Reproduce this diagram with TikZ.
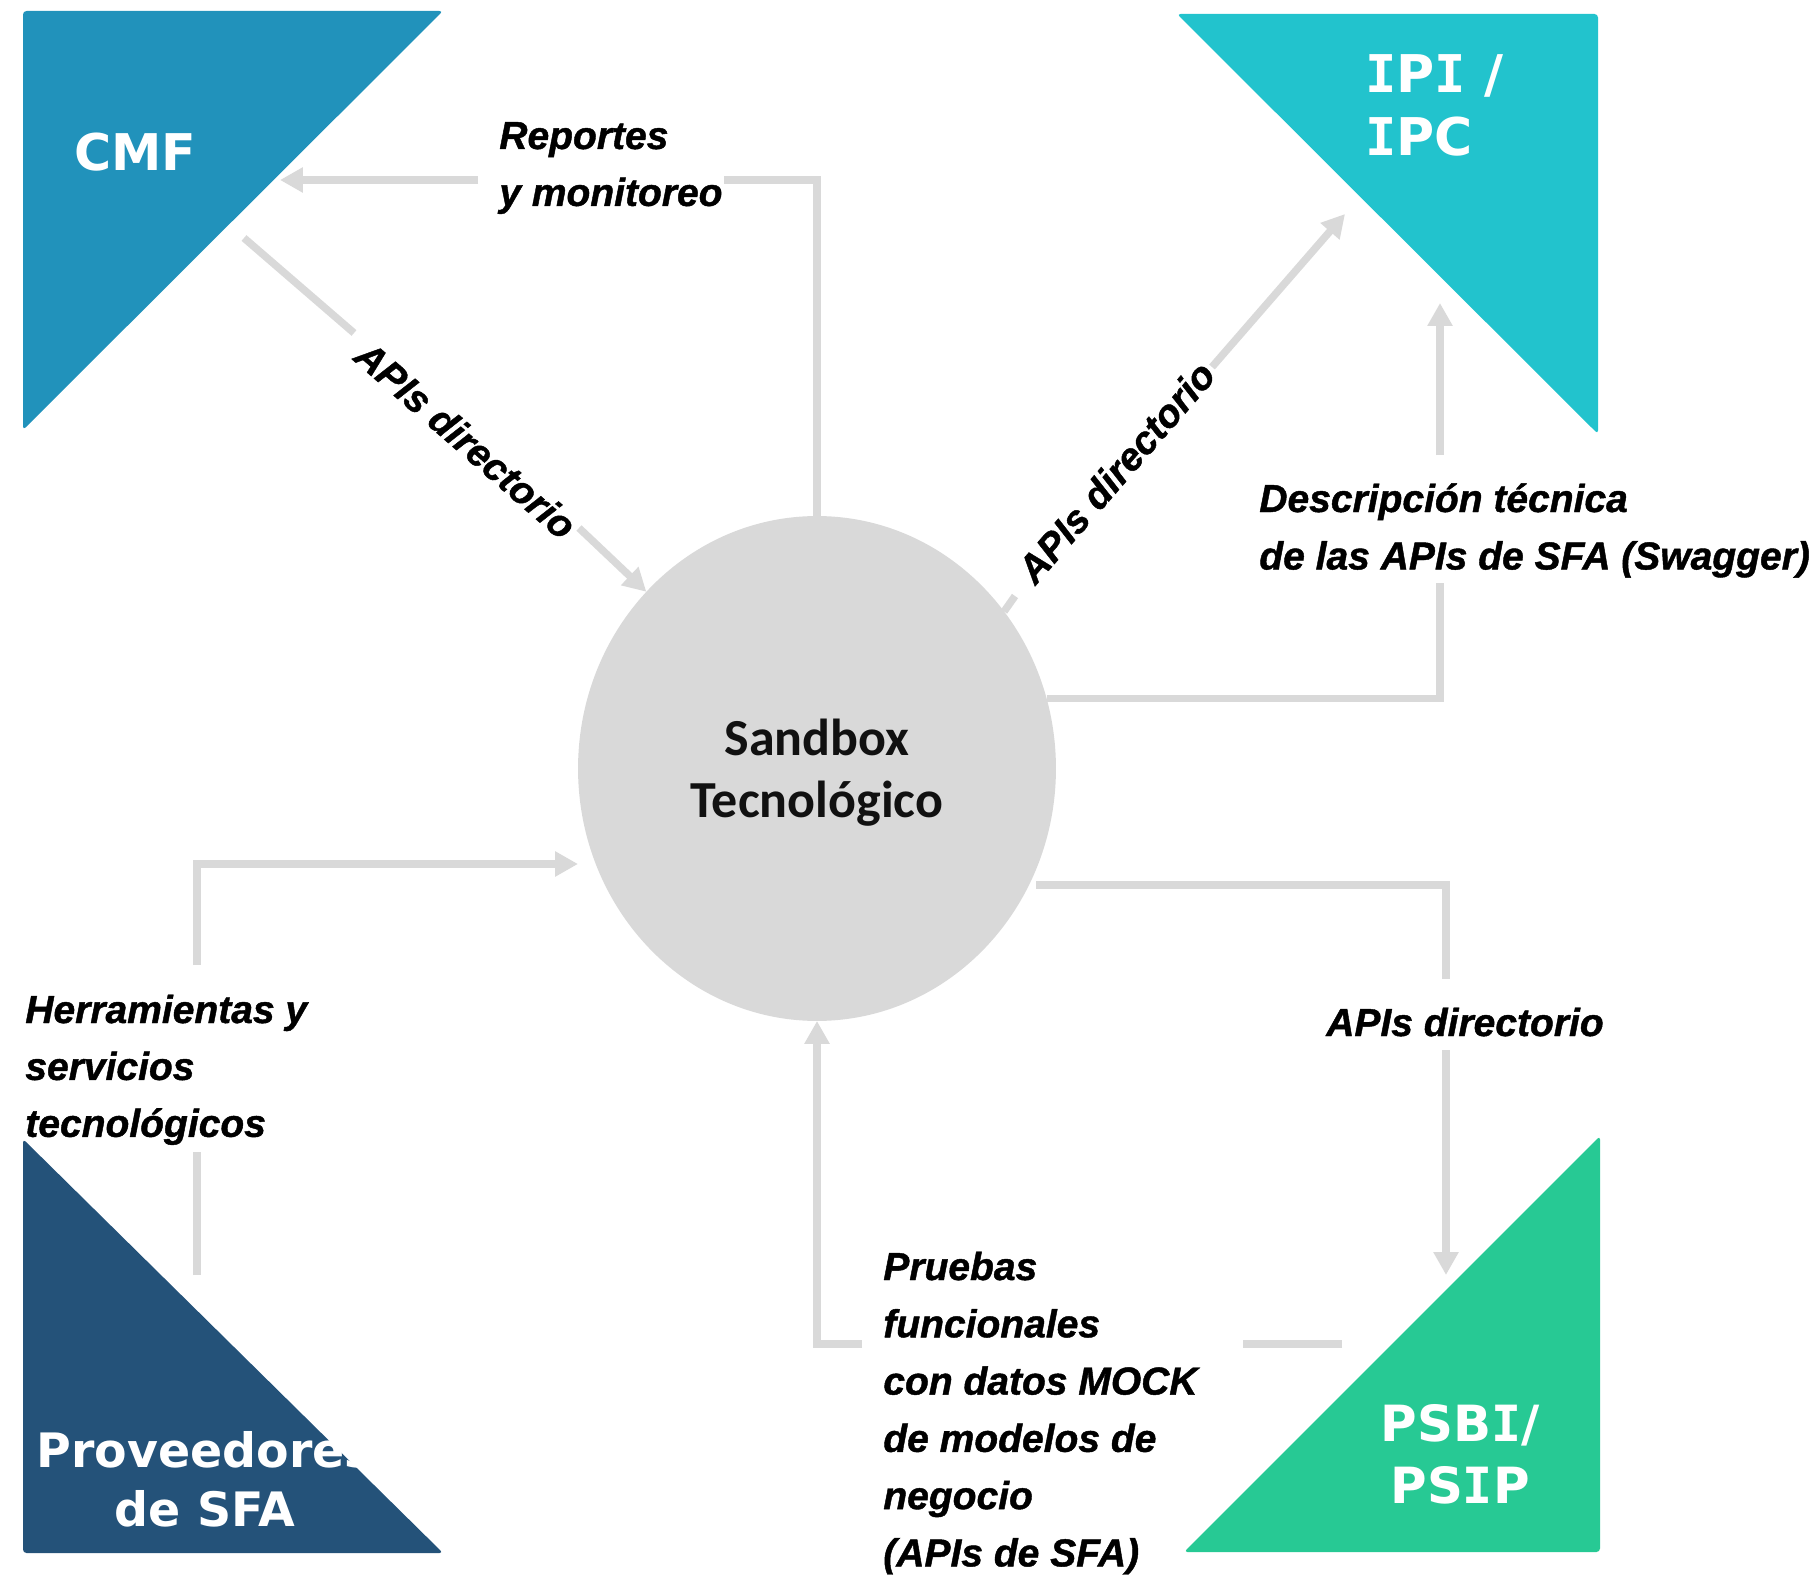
\documentclass[tikz,border=0pt]{standalone}
\usepackage{fontspec}
\setmainfont{Liberation Sans}
\newfontfamily\labfont[FakeBold=1.1]{Liberation Sans Bold Italic}
\newfontfamily\boxfont{DejaVu Sans}
\newfontfamily\boxmono{DejaVu Sans Mono}
\newfontfamily\sbfont{Carlito}
\newcommand\serifI{{\boxmono\bfseries I}}
\usetikzlibrary{arrows.meta,shapes.geometric}
\definecolor{cmfc}{HTML}{2192BB}
\definecolor{ipic}{HTML}{22C3CD}
\definecolor{provc}{HTML}{245279}
\definecolor{psbic}{HTML}{27C994}
\definecolor{lgrey}{HTML}{D9D9D9}
\definecolor{sbtext}{HTML}{111111}
\begin{document}
\begin{tikzpicture}[x=0.02cm,y=-0.02cm,
  conn/.style={draw=lgrey, line width=0.15cm},
  arr/.style={conn, -{Triangle[length=0.46cm,width=0.48cm]}},
  labtxt/.style={inner sep=0, text=black, font=\labfont\fontsize{22.2pt}{#1}\selectfont},
  lab/.style={labtxt=#1, anchor=base west},
  boxtxt/.style={inner sep=0, text=white, font=\boxfont\bfseries\fontsize{#1}{35.8pt}\selectfont},
  tri/.style={rounded corners=2pt}]
\useasboundingbox (0,0) rectangle (1816,1578);

% corner shapes
\fill[cmfc, tri] (23,11) -- (443,11) -- (23,430) -- cycle;
\fill[ipic, tri] (1177,14) -- (1598,14) -- (1598,434) -- cycle;
\fill[psbic, tri] (1600,1136) -- (1600,1552) -- (1184,1552) -- cycle;
\fill[provc, tri] (23,1139) -- (23,1553) -- (443,1553) -- cycle;

% central node
\node[ellipse, fill=lgrey, inner sep=0, outer sep=0,
      minimum width=9.56cm, minimum height=10.1cm] (sb) at (817,768.5) {};
\node[inner sep=0, anchor=base, text=sbtext,
      font=\sbfont\bfseries\fontsize{29.6pt}{35.85pt}\selectfont] (sbt) at (817,755)
  {\begin{tabular}[t]{@{}c@{}}Sandbox\\Tecnológico\end{tabular}};

% box labels
\node[boxtxt=28.8pt, anchor=base west] (cmf) at (74,171) {CMF};
\node[boxtxt=29.6pt, anchor=base west] (ipi) at (1365,93)
  {\begin{tabular}[t]{@{}l@{}}\serifI P\serifI\ /\\\serifI PC\end{tabular}};
\node[boxtxt=28.4pt, anchor=base] (psbi) at (1460,1441)
  {\begin{tabular}[t]{@{}c@{}}PSB\serifI/\\PS\serifI P\end{tabular}};
\node[inner sep=0, text=white, anchor=base,
      font=\boxfont\bfseries\fontsize{27pt}{33.6pt}\selectfont] (prov) at (205,1467)
  {\begin{tabular}[t]{@{}c@{}}Proveedores\\de SFA\end{tabular}};

% connector end points
\coordinate (cmfIn) at (280,180);
\coordinate (repA) at (724,180);
\coordinate (repB) at (478,180);
\coordinate (cmfOut) at (244,238);
\coordinate (c1a) at (354,333);
\coordinate (c1b) at (579,528);
\coordinate (c2a) at (1015,596);
\coordinate (c2b) at (1212,367);
\coordinate (ipiIn) at (1345,214);
\coordinate (d1) at (1440,583);
\coordinate (d2) at (1440,455);
\coordinate (ipiIn2) at (1440,303);
\coordinate (s2p) at (1036,885);
\coordinate (p1) at (1446,979);
\coordinate (p2) at (1446,1050);
\coordinate (psbiIn) at (1446,1275);
\coordinate (psbiOut) at (1342,1344);
\coordinate (q1) at (1243,1344);
\coordinate (q2) at (862,1344);
\coordinate (provOut) at (197,1275);
\coordinate (h1) at (197,1152);
\coordinate (h2) at (197,965);
\coordinate (sbW) at (578,864);

% connectors
\draw[conn] (sb.north) |- (repA);
\draw[arr] (repB) -- (cmfIn);
\draw[conn] (cmfOut) -- (c1a);
\draw[arr] (c1b) -- (sb.134);
\draw[conn] (sb.40) -- (c2a);
\draw[arr] (c2b) -- (ipiIn);
\draw[conn] (sb.17) -| (d1);
\draw[arr] (d2) -- (ipiIn2);
\draw[conn] (s2p) -| (p1);
\draw[arr] (p2) -- (psbiIn);
\draw[conn] (psbiOut) -- (q1);
\draw[arr] (q2) -| (sb.south);
\draw[conn] (provOut) -- (h1);
\draw[arr] (h2) |- (sbW);

% connector labels
\node[lab=32.4pt] (lrep) at (499,149)
  {\begin{tabular}[t]{@{}l@{}}Reportes\\y monitoreo\end{tabular}};
\node[labtxt=31pt, rotate=-41] (ld1) at (466,440) {APIs directorio};
\node[labtxt=31pt, rotate=49] (ld2) at (1116,472) {APIs directorio};
\node[lab=32.7pt] (ldesc) at (1259,512)
  {\begin{tabular}[t]{@{}l@{}}Descripción técnica\\de las APIs de SFA (Swagger)\end{tabular}};
\node[labtxt=31pt, anchor=base] (ld3) at (1465,1036) {APIs directorio};
\node[lab=32.6pt] (lpru) at (883,1280)
  {\begin{tabular}[t]{@{}l@{}}Pruebas\\funcionales\\con datos MOCK\\de modelos de\\negocio\\(APIs de SFA)\end{tabular}};
\node[lab=32.4pt] (lher) at (25,1023)
  {\begin{tabular}[t]{@{}l@{}}Herramientas y\\servicios\\tecnológicos\end{tabular}};
\end{tikzpicture}
\end{document}
